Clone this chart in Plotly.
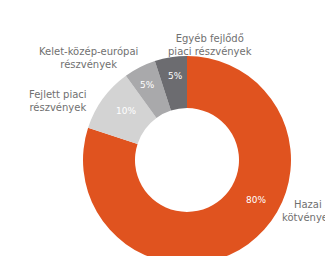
import plotly.graph_objects as go

labels = ["Hazai<br>kötvények", "Fejlett piaci<br>részvények",
          "Kelet-közép-európai<br>részvények", "Egyéb fejlődő<br>piaci részvények"]
values = [80, 10, 5, 5]
colors = ["#E0531F", "#D3D3D3", "#A9A9AB", "#6C6C70"]

W, H = 333, 256
# outside label positions (px) and inside percent positions (px)
label_pos = [(300, 203), (50, 93), (80, 50), (202, 37)]
pct_pos = [(248, 192), (118, 103), (139, 77), (167, 68)]

FONT = "DejaVu Sans, Verdana, sans-serif"

fig = go.Figure(go.Pie(
    values=values,
    labels=labels,
    marker=dict(colors=colors),
    hole=0.5,
    sort=False,
    direction="clockwise",
    rotation=0,
    textinfo="none",
    hoverinfo="label+percent",
    domain=dict(x=[75 / W, 283 / W], y=[0, 1 - 48 / H]),
))

ann = []
for lab, (x, y) in zip(labels, label_pos):
    ann.append(dict(text=lab, x=x / W, y=1 - y / H, xref="paper", yref="paper",
                    showarrow=False, xanchor="center", yanchor="middle",
                    font=dict(family=FONT, size=10, color="#707070")))
for v, (x, y) in zip(values, pct_pos):
    ann.append(dict(text=f"{v}%", x=x / W, y=1 - y / H, xref="paper", yref="paper",
                    showarrow=False, xanchor="center", yanchor="middle",
                    font=dict(family=FONT, size=9, color="#ffffff")))

fig.update_layout(
    width=W, height=H,
    margin=dict(l=0, r=0, t=0, b=0),
    showlegend=False,
    paper_bgcolor="white",
    plot_bgcolor="white",
    annotations=ann,
)

fig.write_html("out.html")
